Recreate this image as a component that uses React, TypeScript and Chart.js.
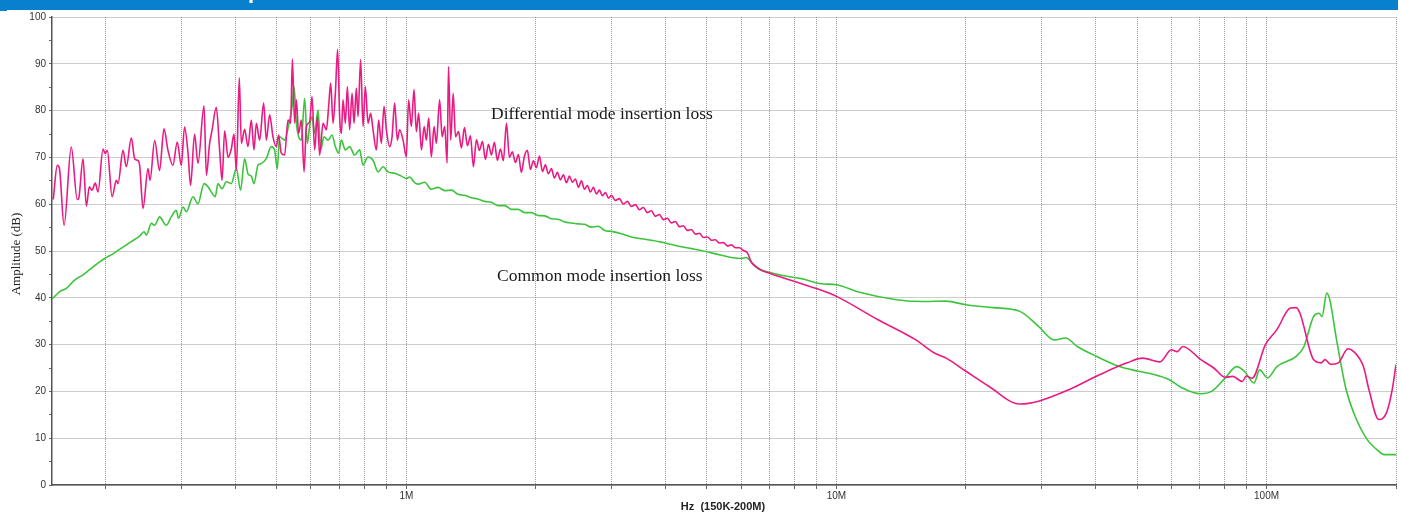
import React, { useEffect, useRef } from 'react';
import { Chart, registerables } from 'chart.js';

Chart.register(...registerables);

// ---- Data (frequency in kHz, amplitude in dB) ----
// Differential mode, 150 kHz - 1.3 MHz
const pinkLowKHz = [
  151, 154.3, 156, 160, 166.3, 171.7, 173, 177.1, 180.3, 183.2,
  185.8, 189.1, 191.9, 197.1, 199.5, 201.7, 206.9, 211.7, 213.6, 219.4,
  223.3, 229.4, 233.5, 236.9, 239.8, 244.2, 250.8, 253.5, 259.9, 266.8,
  273.2, 279.1, 286.6, 293.3, 299.7, 305, 310.6, 315, 321.8, 327.7,
  338.5, 342.8, 348.7, 353.2, 361.5, 368, 372.8, 378, 385, 391.7,
  397.4, 402.4, 408.9, 413.3, 420.7, 428.3, 436, 442.3, 447.9, 455.9,
  465.8, 472.6, 480.9, 489.7, 498.5, 504.6, 512, 521.1, 530.7, 538.3,
  543.2, 549.9, 555, 561.8, 570, 578.3, 585.5, 595.8, 603.6, 612,
  621, 628.6, 640.2, 651.7, 659.7, 666.8, 675.4, 683.8, 692.2, 699.7,
  706.1, 712.5, 721.4, 729.2, 738.1, 747.7, 755.7, 765.2, 772.1, 782.8,
  793, 802.9, 814.5, 826, 836.7, 851.7, 862.1, 874.7, 887.4, 898.5,
  914.4, 926.3, 939.2, 953, 964.7, 982.5, 1000, 1012, 1027, 1042,
  1055, 1068, 1084, 1100, 1113, 1127, 1143, 1160, 1174, 1195,
  1211, 1228, 1244, 1253, 1268, 1285, 1301,
];
const pinkLowDb = [
  61.0, 68.3, 67.8, 55.5, 72.2, 61.0, 61.2, 69.7, 59.6, 63.7,
  63.0, 64.5, 62.6, 71.8, 70.8, 71.5, 61.6, 65.1, 64.4, 71.5,
  68.0, 74.2, 69.7, 69.4, 68.3, 59.1, 67.6, 65.1, 73.6, 67.2,
  76.1, 71.5, 68.3, 73.3, 68.3, 76.5, 71.1, 64.0, 75.0, 68.7,
  81.0, 66.2, 72.9, 75.7, 80.7, 71.5, 65.1, 75.7, 70.0, 71.8,
  75.0, 67.2, 87.0, 73.0, 76.0, 72.3, 78.0, 71.6, 77.3, 73.7,
  81.6, 73.7, 79.1, 74.4, 72.3, 74.8, 70.9, 70.5, 78.0, 77.3,
  91.0, 77.3, 82.3, 75.1, 78.0, 66.9, 76.6, 77.6, 83.0, 71.6,
  78.7, 70.5, 77.3, 75.9, 80.9, 85.9, 77.3, 83.7, 93.1, 78.7,
  75.1, 82.3, 77.3, 85.1, 75.9, 83.7, 77.3, 84.8, 78.7, 90.9,
  76.6, 85.1, 77.3, 79.4, 75.9, 71.6, 78.0, 73.0, 80.9, 75.9,
  72.3, 74.4, 81.6, 73.7, 75.9, 73.7, 70.1, 82.3, 76.6, 84.5,
  75.5, 79.4, 71.6, 76.6, 73.7, 78.4, 70.1, 76.6, 73.0, 82.3,
  74.4, 76.6, 68.8, 89.4, 73.7, 83.7, 74.4,
];
// Differential mode, 1.3 MHz - 6.2 MHz (fine noise)
const pinkMidKHz = [
  1322, 1343, 1365, 1387, 1409, 1432, 1455, 1479, 1503, 1527,
  1552, 1577, 1602, 1628, 1655, 1681, 1709, 1736, 1764, 1793,
  1822, 1851, 1881, 1912, 1943, 1974, 2006, 2039, 2072, 2105,
  2139, 2174, 2209, 2245, 2281, 2318, 2356, 2394, 2433, 2472,
  2512, 2553, 2594, 2636, 2679, 2722, 2766, 2811, 2857, 2903,
  2950, 2997, 3062, 3128, 3196, 3265, 3336, 3408, 3482, 3557,
  3634, 3713, 3793, 3875, 3959, 4045, 4132, 4222, 4313, 4407,
  4502, 4600, 4699, 4801, 4905, 5011, 5120, 5230, 5344, 5459,
  5578, 5698, 5822, 5948, 6076, 6208,
];
const pinkMidDb = [
  75.5, 72.0, 76.4, 72.5, 74.6, 68.0, 73.8, 71.5, 73.4, 69.6,
  72.8, 70.5, 73.2, 69.4, 71.8, 69.3, 77.3, 70.0, 71.2, 68.9,
  70.6, 66.8, 70.2, 71.5, 67.4, 69.3, 67.8, 70.3, 67.0, 68.4,
  66.5, 67.6, 65.6, 66.8, 65.2, 66.3, 64.6, 66.0, 64.7, 65.4,
  63.6, 65.0, 63.2, 64.0, 62.6, 63.6, 62.2, 63.0, 61.8, 62.5,
  61.3, 61.9, 60.8, 61.2, 60.0, 60.6, 59.5, 59.9, 58.8, 59.3,
  58.2, 58.6, 57.4, 57.8, 56.7, 57.0, 56.0, 56.3, 55.2, 55.4,
  54.4, 54.6, 53.6, 53.8, 52.9, 53.0, 52.3, 52.4, 51.7, 51.8,
  51.1, 51.3, 50.7, 50.7, 50.1, 49.6,
];
// Differential mode, 6.3 MHz - 200 MHz
const pinkHighKHz = [
  6343, 6516, 6693, 7063, 7451, 7861, 8293, 8749, 9229, 10000,
  12500, 15300, 16900, 18000, 20000, 22600, 26700, 29500, 34800, 41000,
  47400, 51500, 56500, 60100, 62000, 63900, 70100, 75400, 80200, 83400,
  87900, 89700, 92500, 99400, 105700, 113600, 117200, 119600, 128600, 134000,
  136800, 141000, 146900, 154600, 159500, 168000, 173000, 182300, 190000, 196000,
  200000,
];
const pinkHighDb = [
  47.6, 46.6, 45.9, 45.1, 44.4, 43.7, 43.0, 42.3, 41.6, 40.3,
  35.3, 31.0, 28.2, 27.1, 24.3, 21.1, 17.3, 17.9, 20.4, 23.6,
  26.1, 27.1, 26.3, 28.9, 28.5, 29.6, 26.9, 25.0, 23.0, 23.2,
  22.1, 23.3, 22.8, 30.0, 33.2, 37.8, 37.9, 36.7, 26.8, 26.1,
  26.8, 25.8, 26.1, 29.1, 28.5, 25.3, 20.4, 14.0, 15.4, 20.4,
  25.7,
];

// Common mode
const greenKHz = [
  150, 156.3, 162, 169.3, 177.1, 183.4, 191.9, 198.8, 208, 217.4,
  229.4, 239.8, 245.5, 248.6, 255.3, 259.9, 266.8, 276.6, 284, 291.7,
  295.4, 302.5, 307.9, 319.1, 327.7, 338.5, 345.9, 351.9, 359.5, 364.7,
  372.8, 381.5, 391.7, 402.4, 411.7, 420.7, 428.3, 436, 442.3, 452,
  460.1, 472.6, 485.3, 493.9, 501.1, 507.3, 521.1, 535.4, 542.4, 548.1,
  555, 561.8, 570, 580.1, 588.6, 595.8, 603.6, 612, 623.2, 632,
  643.6, 657.5, 671.8, 683.8, 695.9, 706.1, 721.4, 738.1, 758.2, 778.6,
  793, 814.5, 836.7, 859.3, 882.7, 906.6, 939.2, 973.6, 1000, 1018,
  1045, 1065, 1103, 1143, 1185, 1228, 1273, 1319, 1366, 1416,
  1468, 1521, 1576, 1634, 1693, 1755, 1819, 1884, 1953, 2024,
  2098, 2174, 2253, 2335, 2420, 2508, 2598, 2693, 2791, 2892,
  2997, 3162, 3336, 3520, 3713, 3917, 4133, 4360, 4600, 4853,
  5120, 5401, 5699, 6012, 6175, 6343, 6576, 6937, 7451, 8293,
  9229, 10000, 11200, 13800, 16000, 18000, 20000, 23100, 26700, 29500,
  32100, 34100, 36300, 40200, 45500, 50400, 54700, 59400, 63200, 70100,
  74500, 80200, 85200, 88800, 93500, 96400, 100500, 105700, 117200, 122200,
  128600, 132400, 134600, 138000, 140300, 145500, 153100, 159500, 171400, 180300,
  187900, 200000,
];
const greenDb = [
  39.7, 41.3, 42.0, 43.8, 44.9, 46.0, 47.4, 48.4, 49.4, 50.6,
  52.0, 53.2, 54.1, 53.4, 55.9, 55.5, 57.3, 55.5, 57.3, 58.7,
  57.0, 59.4, 58.4, 61.6, 60.1, 64.4, 63.7, 62.6, 61.6, 64.4,
  63.3, 64.8, 64.4, 67.6, 63.0, 69.7, 66.5, 66.0, 64.4, 68.4,
  68.7, 69.8, 72.3, 71.6, 67.6, 74.4, 73.7, 78.0, 80.9, 85.1,
  77.3, 74.4, 73.7, 82.6, 73.0, 76.6, 78.7, 75.1, 80.1, 71.6,
  74.4, 73.7, 74.8, 72.3, 70.9, 73.7, 71.6, 72.3, 70.5, 71.6,
  68.4, 70.1, 69.4, 66.9, 68.0, 66.9, 66.6, 66.0, 65.5, 65.8,
  64.6, 64.3, 64.7, 63.2, 63.6, 62.9, 63.0, 62.1, 61.9, 61.4,
  61.1, 60.6, 60.4, 59.7, 59.7, 58.9, 58.9, 58.2, 58.2, 57.6,
  57.5, 56.9, 56.8, 56.2, 56.0, 55.8, 55.7, 55.1, 55.3, 54.4,
  54.2, 53.7, 53.0, 52.6, 52.3, 51.9, 51.4, 50.9, 50.5, 50.1,
  49.6, 49.1, 48.6, 48.4, 48.6, 47.6, 46.2, 45.5, 44.8, 44.1,
  43.0, 42.8, 41.3, 39.6, 39.2, 39.3, 38.5, 37.9, 37.1, 33.9,
  31.0, 31.4, 29.6, 27.5, 25.3, 24.3, 23.6, 22.5, 20.9, 19.5,
  20.0, 22.9, 25.3, 24.3, 21.8, 24.6, 22.9, 25.3, 27.5, 29.6,
  36.0, 36.7, 36.0, 41.0, 39.6, 31.0, 20.4, 15.4, 9.7, 7.6,
  6.5, 6.5,
];

// ---- Axes ----
const xMinHz = 150000;
const xMaxHz = 200000000;
const xDecades = [1e5, 1e6, 1e7, 1e8];
const xMultipliers = [1, 2, 3, 4, 5, 6, 7, 8, 9];
const xTickLabelValues = [1e6, 1e7, 1e8];
const xTickLabels = ['1M', '10M', '100M'];
const yTickValues = [0, 5, 10, 15, 20, 25, 30, 35, 40, 45, 50, 55, 60, 65, 70, 75, 80, 85, 90, 95, 100];

const annotationDiff = 'Differential mode insertion loss';
const annotationCommon = 'Common mode insertion loss';
const xTitle = 'Hz  (150K-200M)';
const yTitle = 'Amplitude (dB)';

const PINK = '#ea1a83';
const GREEN = '#3cc43c';
const GRID = 'rgba(120,120,120,0.75)';
const SANS = '"Liberation Sans", Arial, sans-serif';
const SERIF = '"Liberation Serif", "Times New Roman", serif';

export default function App() {
  const ref = useRef<HTMLCanvasElement>(null);

  useEffect(() => {
    document.body.style.margin = '0';
    document.body.style.overflow = 'hidden';
    const canvas = ref.current;
    if (!canvas) return;

    const xGridValues: number[] = [];
    xDecades.forEach((d) =>
      xMultipliers.forEach((m) => {
        const v = d * m;
        if (v > xMinHz && v < xMaxHz) xGridValues.push(v);
      })
    );
    xGridValues.push(xMaxHz);

    const pinkKHz = [...pinkLowKHz, ...pinkMidKHz, ...pinkHighKHz];
    const pinkDb = [...pinkLowDb, ...pinkMidDb, ...pinkHighDb];

    const decor = {
      id: 'decor',
      beforeDraw(chart: any) {
        const ctx = chart.ctx;
        ctx.save();
        ctx.fillStyle = '#ffffff';
        ctx.fillRect(0, 0, chart.width, chart.height);
        ctx.fillStyle = '#0880cc';
        ctx.fillRect(0, 0, 1398, 10);
        ctx.fillRect(0, 0, 7, 11);
        ctx.beginPath();
        ctx.rect(0, 0, 1398, 10);
        ctx.clip();
        ctx.fillStyle = '#ffffff';
        ctx.font = 'bold 22px ' + SANS;
        ctx.textBaseline = 'alphabetic';
        ctx.fillText('p', 248, -2);
        ctx.restore();
      },
      afterDraw(chart: any) {
        const ctx = chart.ctx;
        ctx.save();
        ctx.fillStyle = '#1a1a1a';
        ctx.font = '17.5px ' + SERIF;
        ctx.textBaseline = 'middle';
        ctx.textAlign = 'left';
        ctx.fillText(annotationDiff, 491, 114);
        ctx.fillText(annotationCommon, 497, 276);

        ctx.font = 'bold 11px ' + SANS;
        ctx.fillStyle = '#222';
        ctx.textAlign = 'center';
        ctx.fillText(xTitle, 723, 507);

        ctx.translate(17, 254);
        ctx.rotate(-Math.PI / 2);
        ctx.font = '13px ' + SERIF;
        ctx.fillStyle = '#222';
        ctx.textAlign = 'center';
        ctx.fillText(yTitle, 0, 0);
        ctx.restore();
      },
    };

    const chart = new Chart(canvas, {
      type: 'line',
      data: {
        datasets: [
          {
            label: 'Differential mode',
            data: pinkKHz.map((f, i) => ({ x: f * 1000, y: pinkDb[i] })),
            borderColor: PINK,
            borderWidth: 1.6,
            pointRadius: 0,
            cubicInterpolationMode: 'monotone',
            fill: false,
          },
          {
            label: 'Common mode',
            data: greenKHz.map((f, i) => ({ x: f * 1000, y: greenDb[i] })),
            borderColor: GREEN,
            borderWidth: 1.6,
            pointRadius: 0,
            cubicInterpolationMode: 'monotone',
            fill: false,
          },
        ],
      },
      options: {
        responsive: false,
        animation: false,
        devicePixelRatio: 1,
        layout: { padding: { top: 17, right: 5, left: 0, bottom: 0 } },
        plugins: { legend: { display: false }, tooltip: { enabled: false } },
        scales: {
          x: {
            type: 'logarithmic',
            min: xMinHz,
            max: xMaxHz,
            afterBuildTicks: (s: any) => {
              s.ticks = xGridValues.map((v) => ({ value: v }));
            },
            afterFit: (s: any) => {
              s.height = 31;
            },
            ticks: {
              autoSkip: false,
              maxRotation: 0,
              minRotation: 0,
              padding: 1,
              color: '#333',
              font: { family: SANS, size: 10 },
              callback: (v: any) => {
                const idx = xTickLabelValues.indexOf(Number(v));
                return idx >= 0 ? xTickLabels[idx] : '';
              },
            },
            grid: {
              color: GRID,
              lineWidth: 1,
              drawTicks: true,
              tickLength: 4,
              tickColor: '#666',
            },
            border: { display: true, color: '#555', width: 1.5, dash: [1, 1] },
          },
          y: {
            type: 'linear',
            min: 0,
            max: 100,
            afterBuildTicks: (s: any) => {
              s.ticks = yTickValues.map((v) => ({ value: v }));
            },
            afterFit: (s: any) => {
              s.width = 52;
            },
            ticks: {
              padding: 3,
              color: '#333',
              font: { family: SANS, size: 10 },
              callback: (v: any) => (Number(v) % 10 === 0 ? String(v) : ''),
            },
            grid: {
              color: (c: any) => (c.tick && c.tick.value % 10 === 0 ? GRID : 'rgba(0,0,0,0)'),
              lineWidth: 1,
              drawTicks: true,
              tickLength: 3,
              tickColor: '#666',
            },
            border: { display: true, color: '#555', width: 1.5, dash: [1, 1] },
          },
        },
      } as any,
      plugins: [decor],
    });

    return () => chart.destroy();
  }, []);

  return (
    <div style={{ width: 1401, height: 516, background: '#fff' }}>
      <canvas ref={ref} width={1401} height={516} style={{ display: 'block' }} />
    </div>
  );
}
